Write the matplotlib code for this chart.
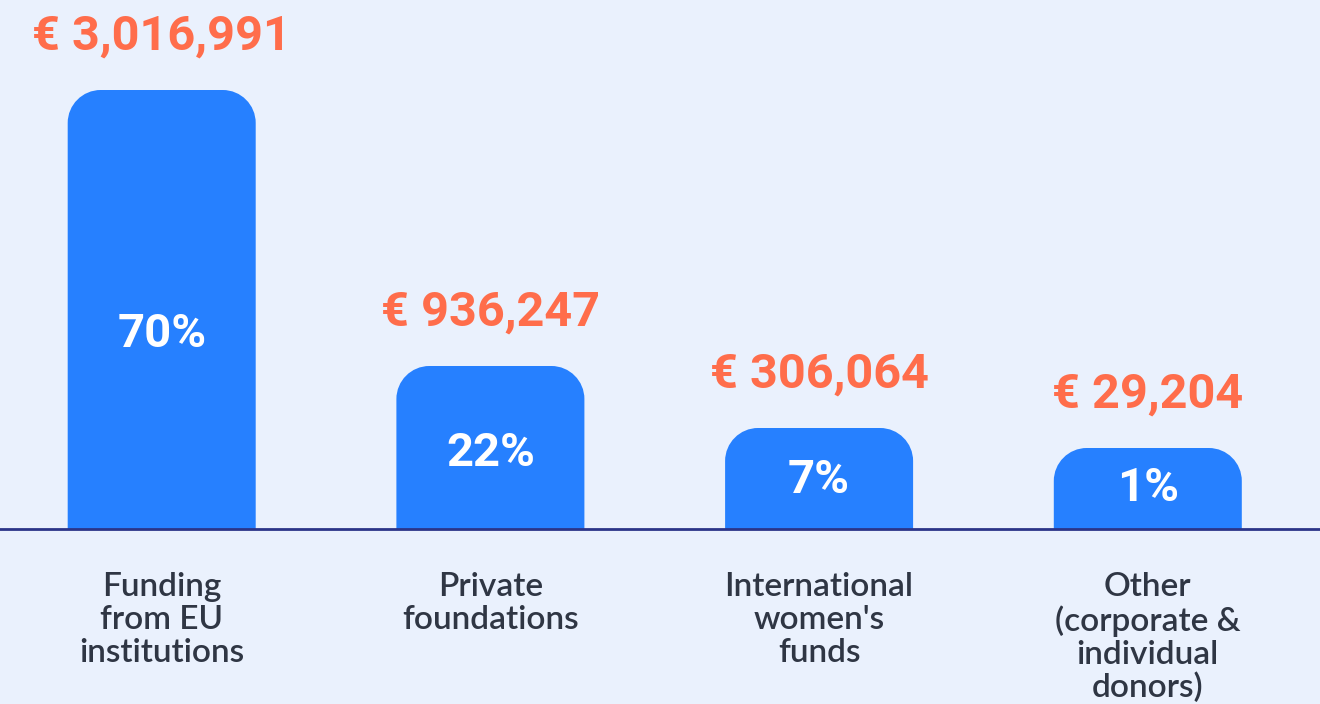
import matplotlib
matplotlib.use('Agg')
import matplotlib.pyplot as plt
from matplotlib.path import Path
from matplotlib.patches import PathPatch

# Data
categories = ['Funding\nfrom EU\ninstitutions', 'Private\nfoundations',
              "International\nwomen's\nfunds", 'Other\n(corporate &\nindividual\ndonors)']
amounts = ['€ 3,016,991', '€ 936,247', '€ 306,064', '€ 29,204']
shares = ['70%', '22%', '7%', '1%']
# displayed bar heights (the picture does not scale bars linearly)
bar_heights = [439, 163, 101, 81]

bg = '#EAF1FD'
bar_color = '#2680FF'
orange = '#FF6D4B'
text_dark = '#2F3644'
navy = '#2B3488'

fig = plt.figure(figsize=(13.2, 7.04), dpi=100, facecolor=bg)
ax = fig.add_axes([0, 0, 1, 1])
ax.set_facecolor(bg)

step_px = 328.7
first_px = 161.7
ax.set_xlim(-first_px / step_px, (1320 - first_px) / step_px)
ax.set_ylim(-175, 529)   # one y unit = one pixel
ax.axis('off')

x = list(range(len(categories)))
bars = ax.bar(x, bar_heights, width=188 / step_px, color=bar_color)

# swap the plain rectangles for ones with rounded top corners
r_px = 33
rx = r_px / step_px
ry = r_px
k = 0.5523
for rect in bars:
    x0 = rect.get_x()
    x1 = x0 + rect.get_width()
    h = rect.get_height()
    verts = [(x0, 0), (x0, h - ry),
             (x0, h - ry + k * ry), (x0 + rx - k * rx, h), (x0 + rx, h),
             (x1 - rx, h),
             (x1 - rx + k * rx, h), (x1, h - ry + k * ry), (x1, h - ry),
             (x1, 0), (x0, 0)]
    codes = [Path.MOVETO, Path.LINETO,
             Path.CURVE4, Path.CURVE4, Path.CURVE4,
             Path.LINETO,
             Path.CURVE4, Path.CURVE4, Path.CURVE4,
             Path.LINETO, Path.CLOSEPOLY]
    ax.add_patch(PathPatch(Path(verts, codes), facecolor=bar_color, edgecolor='none', zorder=2))
    rect.set_visible(False)

ax.axhline(0, color=navy, lw=2.0, zorder=3)

for i, h in enumerate(bar_heights):
    ax.text(i, h + 40, amounts[i], ha='center', va='baseline', color=orange,
            fontsize=35, fontweight='bold', family='Roboto')
    ax.text(i, 0.43 * h + 6, shares[i], ha='center', va='center', color='white',
            fontsize=34, fontweight='bold', family='Roboto', zorder=4)
    ax.text(i, -43, categories[i], ha='center', va='top', color=text_dark,
            fontsize=24, fontweight='semibold', family='Lato', linespacing=1.12)

fig.savefig('out.png', dpi=100, facecolor=bg)
